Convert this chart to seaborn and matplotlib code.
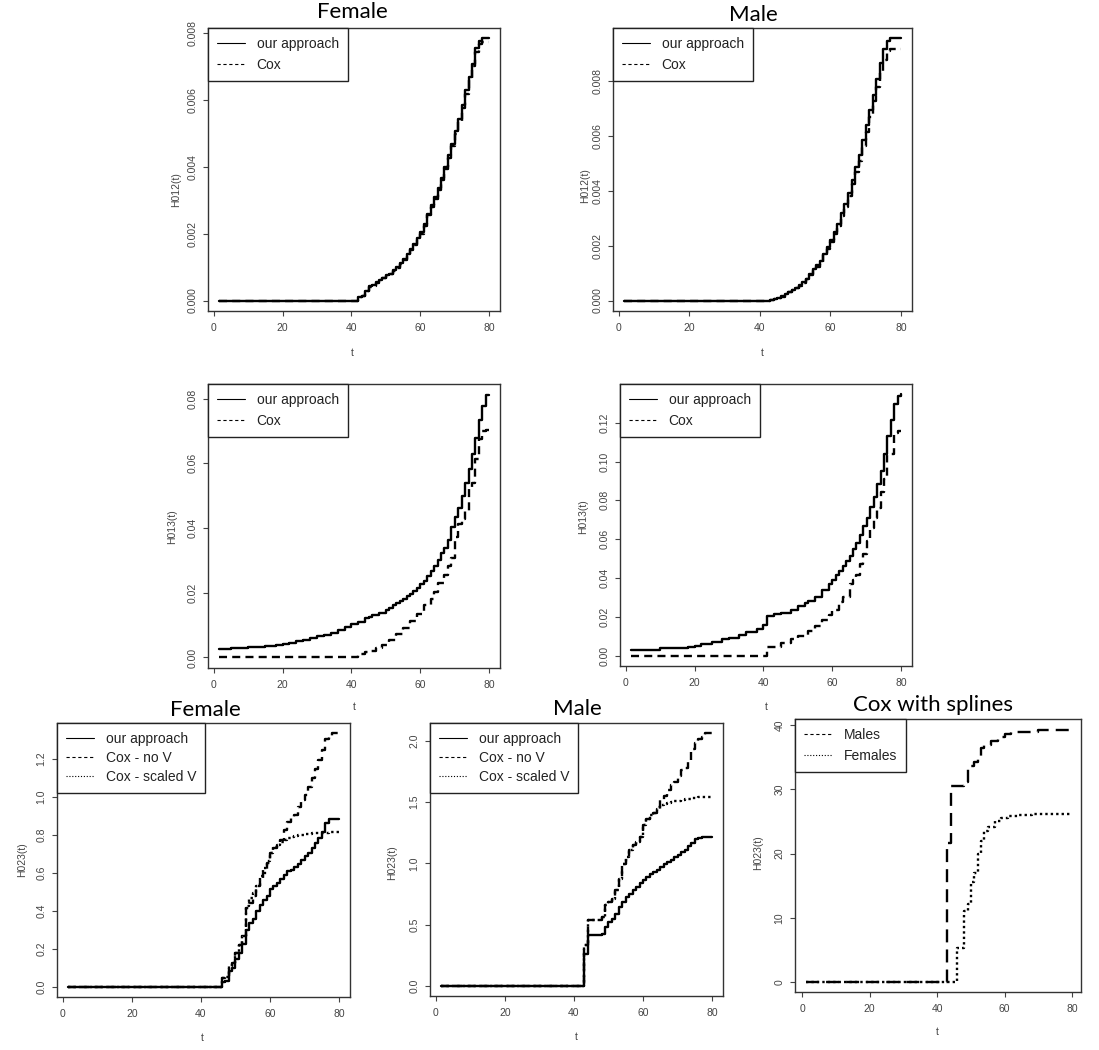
import numpy as np
import matplotlib
matplotlib.use("Agg")
import matplotlib.pyplot as plt
from matplotlib.lines import Line2D
from matplotlib.ticker import FixedLocator, FormatStrFormatter
import seaborn as sns

# ---- data (step functions, value holds until next t) ----

# H012, female
t_f12 = [1.5, 42, 43, 44, 45, 46, 47, 48, 49, 50, 51, 52, 53, 54, 55, 56, 57, 58, 59, 60,
         61, 62, 63, 64, 65, 66, 67, 68, 69, 70, 71, 72, 73, 74, 75, 76, 77, 78, 80]
f12_ours = [0, 0.0001, 0.00015, 0.0003, 0.00042, 0.00045, 0.00055, 0.0006, 0.00068, 0.00075,
            0.0008, 0.0009, 0.001, 0.00112, 0.00125, 0.0014, 0.00155, 0.0017, 0.00188, 0.00205,
            0.00228, 0.0026, 0.00285, 0.0031, 0.00338, 0.00368, 0.004, 0.00435, 0.0047, 0.00508,
            0.00545, 0.00585, 0.0063, 0.0067, 0.0071, 0.00755, 0.00778, 0.00785, 0.00785]
f12_cox = [0, 0.0001, 0.00014, 0.00028, 0.0004, 0.00044, 0.00053, 0.00058, 0.00066, 0.00073,
           0.00078, 0.00088, 0.00097, 0.0011, 0.00122, 0.00137, 0.00152, 0.00167, 0.00185, 0.002,
           0.00224, 0.00255, 0.0028, 0.00305, 0.00332, 0.00362, 0.00393, 0.00428, 0.00463, 0.005,
           0.00538, 0.00578, 0.0062, 0.00662, 0.00702, 0.00745, 0.00768, 0.00773, 0.00773]

# H012, male
t_m12 = [1.5, 43, 44, 45, 46, 47, 48, 49, 50, 51, 52, 53, 54, 55, 56, 57, 58, 59, 60, 61,
         62, 63, 64, 65, 66, 67, 68, 69, 70, 71, 72, 73, 74, 75, 76, 77, 80]
m12_ours = [0, 0.00003, 0.00006, 0.0001, 0.00015, 0.00024, 0.00032, 0.0004, 0.00046, 0.00055,
            0.00066, 0.0008, 0.00098, 0.00116, 0.00128, 0.00146, 0.0017, 0.00195, 0.0022, 0.0025,
            0.0028, 0.0032, 0.00354, 0.00393, 0.0044, 0.00488, 0.0053, 0.00585, 0.0064, 0.00695,
            0.0075, 0.0081, 0.00866, 0.00917, 0.00949, 0.00957, 0.00957]
m12_cox = [0, 0.00003, 0.00006, 0.0001, 0.00014, 0.00022, 0.0003, 0.00038, 0.00044, 0.00053,
           0.00064, 0.00077, 0.00095, 0.00112, 0.00124, 0.00141, 0.00165, 0.00188, 0.00212, 0.00242,
           0.00272, 0.0031, 0.00343, 0.0038, 0.00425, 0.0047, 0.0051, 0.00563, 0.00615, 0.0067,
           0.0073, 0.0078, 0.0084, 0.0088, 0.0091, 0.0092, 0.0092]

# H013, female
t_f13 = [1.5, 5, 10, 15, 18, 20, 22, 24, 26, 28, 30, 32, 34, 36, 38, 40, 42, 44, 45, 46,
         48, 50, 51, 52, 53, 54, 55, 56, 57, 58, 59, 60, 61, 62, 63, 64, 65, 66, 67, 68,
         69, 70, 71, 72, 73, 74, 75, 76, 77, 78, 79, 80]
f13_ours = [0.0027, 0.0029, 0.0032, 0.0035, 0.0039, 0.0042, 0.0046, 0.005, 0.0055, 0.006,
            0.0065, 0.0071, 0.0077, 0.0085, 0.0094, 0.0103, 0.0109, 0.0122, 0.0126, 0.013,
            0.0136, 0.0146, 0.0153, 0.0161, 0.0168, 0.0175, 0.0181, 0.0189, 0.0196, 0.0206,
            0.0216, 0.0226, 0.0238, 0.0252, 0.0266, 0.0282, 0.03, 0.0322, 0.0337, 0.0362,
            0.0402, 0.0433, 0.0463, 0.0498, 0.0538, 0.0583, 0.0629, 0.0679, 0.0734, 0.0777,
            0.0813, 0.0813]
t_f13c = [1.5, 42, 44, 45, 47, 49, 51, 53, 55, 57, 59, 61, 63, 64, 65, 67, 68, 69, 70, 71,
          72, 73, 74, 75, 76, 77, 78, 79, 80]
f13_cox = [0, 0.0012, 0.0018, 0.002, 0.003, 0.004, 0.0055, 0.0072, 0.009, 0.0113,
           0.0133, 0.0163, 0.0181, 0.0201, 0.0231, 0.0254, 0.0282, 0.0307, 0.0372, 0.0412,
           0.0428, 0.0453, 0.0523, 0.0538, 0.0614, 0.0674, 0.0699, 0.0704, 0.0704]

# H013, male
t_m13 = [1.5, 10, 18, 20, 22, 25, 28, 30, 33, 35, 38, 40, 41, 43, 45, 48, 50, 52, 53, 55,
         57, 59, 60, 61, 62, 63, 64, 65, 66, 67, 68, 69, 70, 71, 72, 73, 74, 75, 76, 77,
         78, 79, 80]
m13_ours = [0.0029, 0.0037, 0.0042, 0.0051, 0.0058, 0.0071, 0.0084, 0.0093, 0.0108, 0.0121,
            0.0138, 0.0155, 0.0206, 0.0212, 0.0219, 0.0236, 0.0253, 0.0272, 0.0282, 0.0304,
            0.0337, 0.0371, 0.0388, 0.0413, 0.0438, 0.0464, 0.0489, 0.0514, 0.0548, 0.0582,
            0.0624, 0.0666, 0.0708, 0.0767, 0.0818, 0.0885, 0.0953, 0.1037, 0.113, 0.1214,
            0.1298, 0.134, 0.1346]
t_m13c = [1.5, 41, 45, 48, 50, 53, 55, 57, 59, 60, 62, 63, 65, 66, 67, 68, 69, 70, 71, 72,
          73, 74, 75, 76, 77, 78, 79, 80]
m13_cox = [0, 0.0042, 0.0067, 0.0084, 0.0101, 0.0126, 0.0152, 0.0182, 0.0211, 0.0233,
           0.0278, 0.0304, 0.0371, 0.0388, 0.0413, 0.0472, 0.0523, 0.059, 0.0658, 0.0708,
           0.0759, 0.0843, 0.0911, 0.1032, 0.1037, 0.1147, 0.116, 0.116]

# H023, female
t_f23 = [1.5, 46, 47, 48, 49, 50, 51, 52, 53, 54, 55, 56, 57, 58, 59, 60, 61, 62, 63, 64,
         65, 66, 67, 68, 69, 70, 71, 72, 73, 74, 75, 76, 77, 78, 80]
f23_ours = [0, 0.028, 0.03, 0.084, 0.1, 0.145, 0.18, 0.223, 0.3, 0.337, 0.358,
            0.398, 0.433, 0.459, 0.476, 0.515, 0.529, 0.546, 0.567, 0.59, 0.607,
            0.616, 0.63, 0.647, 0.665, 0.686, 0.703, 0.73, 0.756, 0.782, 0.817,
            0.86, 0.881, 0.881, 0.881]
f23_nov = [0, 0.049, 0.05, 0.11, 0.127, 0.18, 0.218, 0.267, 0.415, 0.44, 0.476,
           0.529, 0.564, 0.599, 0.651, 0.703, 0.73, 0.747, 0.773, 0.825, 0.869,
           0.887, 0.904, 0.948, 0.983, 1.009, 1.052, 1.101, 1.148, 1.192, 1.244,
           1.305, 1.318, 1.335, 1.335]
f23_scaled = [0, 0.049, 0.05, 0.11, 0.127, 0.18, 0.218, 0.267, 0.424, 0.468, 0.494,
              0.529, 0.581, 0.625, 0.66, 0.703, 0.738, 0.747, 0.764, 0.774, 0.782,
              0.788, 0.794, 0.797, 0.8, 0.804, 0.806, 0.808, 0.811, 0.811, 0.812,
              0.812, 0.813, 0.813, 0.813]

# H023, male
t_m23 = [1.5, 43, 44, 45, 46, 47, 48, 49, 50, 51, 52, 53, 54, 55, 56, 57, 58, 59, 60, 61,
         62, 63, 64, 65, 66, 67, 68, 69, 70, 71, 72, 73, 74, 75, 76, 77, 78, 80]
m23_ours = [0, 0.264, 0.413, 0.413, 0.413, 0.413, 0.42, 0.481, 0.52, 0.549, 0.59,
            0.644, 0.685, 0.726, 0.753, 0.78, 0.807, 0.84, 0.867, 0.889, 0.91,
            0.929, 0.948, 0.97, 0.992, 1.011, 1.03, 1.052, 1.071, 1.092, 1.111,
            1.139, 1.166, 1.201, 1.21, 1.215, 1.215, 1.215]
m23_nov = [0, 0.33, 0.54, 0.54, 0.535, 0.535, 0.56, 0.658, 0.685, 0.712, 0.78,
           0.875, 0.997, 1.052, 1.106, 1.147, 1.174, 1.215, 1.31, 1.364, 1.391,
           1.41, 1.459, 1.519, 1.546, 1.595, 1.636, 1.663, 1.717, 1.758, 1.78,
           1.84, 1.935, 1.981, 2.016, 2.035, 2.063, 2.063]
m23_scaled = [0, 0.33, 0.54, 0.54, 0.535, 0.535, 0.56, 0.658, 0.685, 0.712, 0.78,
              0.875, 0.997, 1.052, 1.106, 1.147, 1.174, 1.215, 1.31, 1.364, 1.391,
              1.41, 1.446, 1.473, 1.483, 1.492, 1.5, 1.508, 1.513, 1.519, 1.523,
              1.527, 1.531, 1.535, 1.538, 1.541, 1.544, 1.546]

# H023, Cox with splines
t_spl_m = [1, 43, 44, 48, 49, 51, 52, 53, 54, 56, 58, 60, 62, 65, 70, 75, 79.5]
spl_males = [0, 21.7, 30.6, 31.1, 33.7, 34.2, 35, 36.5, 37, 37.6, 38.1, 38.6, 38.9, 39, 39.2, 39.3, 39.4]
t_spl_f = [1, 46, 48, 49, 50, 51, 52, 53, 54, 55, 57, 59, 61, 64, 68, 72, 76, 79.5]
spl_females = [0, 5.35, 11.1, 12.1, 15.5, 17.0, 19.9, 22, 23.5, 24.2, 25.1, 25.6, 25.9, 26, 26.1, 26.2, 26.2, 26.3]

# ---- styling ----
sns.set_style("white")
plt.rcParams["font.family"] = ["Liberation Sans", "DejaVu Sans"]

W, H = 1099, 1050
INK = "#222222"
GREY = "#444444"
SOLID = "-"
DASHED = (0, (3.4, 2.2))
DASHED_LONG = (0, (5.5, 3.0))
DOTTED = (0, (1.0, 1.3))
LEG_STYLE = {SOLID: "-", DASHED: (0, (2.9, 2.4)), DASHED_LONG: (0, (2.9, 2.4)),
             DOTTED: (0, (1.0, 1.6))}

fig = plt.figure(figsize=(W / 100, H / 100), dpi=100)


def px_axes(l, t, r, b):
    return fig.add_axes([l / W, 1 - b / H, (r - l) / W, (b - t) / H])


def fig_text(x, y, s, **kw):
    fig.text(x / W, 1 - y / H, s, ha="center", va="center", **kw)


def panel(box, series, yticks, yfmt, ylab, ylab_xy, t_xy, spacing=0.5, title=None):
    ax = px_axes(*box)
    for t, v, ls, _ in series:
        sns.lineplot(x=t, y=v, ax=ax, color="black", lw=1.7, linestyle=ls,
                     drawstyle="steps-post", estimator=None)
    ax.margins(x=0.04, y=0.04)
    ax.xaxis.set_major_locator(FixedLocator([0, 20, 40, 60, 80]))
    ax.yaxis.set_major_locator(FixedLocator(yticks))
    ax.yaxis.set_major_formatter(FormatStrFormatter(yfmt))
    ax.tick_params(bottom=True, left=True, direction="out", length=3.6, width=0.8,
                   color=GREY, labelsize=7.5, labelcolor=GREY)
    ax.tick_params(axis="x", pad=5.0)
    ax.tick_params(axis="y", pad=4.0, labelrotation=90)
    for lab in ax.get_yticklabels():
        lab.set_va("center")
    for sp in ax.spines.values():
        sp.set_visible(True)
        sp.set_color("#333333")
        sp.set_linewidth(1.0)
    ax.set_xlabel("")
    ax.set_ylabel("")

    handles = [Line2D([], [], color="black", lw=0.8, linestyle=LEG_STYLE[ls])
               for _, _, ls, _ in series]
    labels = [lab for _, _, _, lab in series]
    leg = ax.legend(handles, labels, loc="upper left", bbox_to_anchor=(0, 1),
                    borderaxespad=0, fancybox=False, framealpha=1, edgecolor=INK,
                    fontsize=10, handlelength=2.0, handletextpad=0.85,
                    borderpad=0.65, labelspacing=spacing)
    leg.get_frame().set_linewidth(1.0)
    for txt in leg.get_texts():
        txt.set_color(INK)

    fig_text(*ylab_xy, ylab, rotation=90, fontsize=7.5, color=GREY)
    fig_text(*t_xy, "t", fontsize=7.5, color=GREY)
    if title is not None:
        fig_text(*title[1], title[0], fontsize=16, color="black", family=["Lato", "DejaVu Sans"])
    return ax


# top row: H012
panel((208, 28, 500, 311),
      [(t_f12, f12_ours, SOLID, "our approach"), (t_f12, f12_cox, DASHED, "Cox")],
      [0, 0.002, 0.004, 0.006, 0.008], "%.3f", "H012(t)", (176, 190), (352, 353),
      title=("Female", (352, 12)))
panel((613, 28, 912, 311),
      [(t_m12, m12_ours, SOLID, "our approach"), (t_m12, m12_cox, DASHED, "Cox")],
      [0, 0.002, 0.004, 0.006, 0.008], "%.3f", "H012(t)", (585, 186), (762, 353),
      title=("Male", (753, 15)))

# middle row: H013
panel((208, 384, 500, 668),
      [(t_f13, f13_ours, SOLID, "our approach"), (t_f13c, f13_cox, DASHED, "Cox")],
      [0, 0.02, 0.04, 0.06, 0.08], "%.2f", "H013(t)", (172, 527), (354, 707))
panel((620, 384, 912, 666),
      [(t_m13, m13_ours, SOLID, "our approach"), (t_m13c, m13_cox, DASHED, "Cox")],
      [0, 0.02, 0.04, 0.06, 0.08, 0.10, 0.12], "%.2f", "H013(t)", (583, 517), (766, 707))

# bottom row: H023
panel((57, 723, 350, 997),
      [(t_f23, f23_ours, SOLID, "our approach"), (t_f23, f23_nov, DASHED, "Cox - no V"),
       (t_f23, f23_scaled, DOTTED, "Cox - scaled V")],
      [0, 0.2, 0.4, 0.6, 0.8, 1.0, 1.2], "%.1f", "H023(t)", (22, 860), (202, 1038),
      spacing=0.36, title=("Female", (205, 710)))
panel((430, 723, 723, 996),
      [(t_m23, m23_ours, SOLID, "our approach"), (t_m23, m23_nov, DASHED, "Cox - no V"),
       (t_m23, m23_scaled, DOTTED, "Cox - scaled V")],
      [0, 0.5, 1.0, 1.5, 2.0], "%.1f", "H023(t)", (392, 863), (576, 1037),
      spacing=0.36, title=("Male", (577, 709)))
panel((795, 719, 1081, 992),
      [(t_spl_m, spl_males, DASHED_LONG, "Males"), (t_spl_f, spl_females, DOTTED, "Females")],
      [0, 10, 20, 30, 40], "%d", "H023(t)", (758, 853), (937, 1032),
      title=("Cox with splines", (933, 705)))

fig.savefig("out.png", dpi=100, facecolor="white")
